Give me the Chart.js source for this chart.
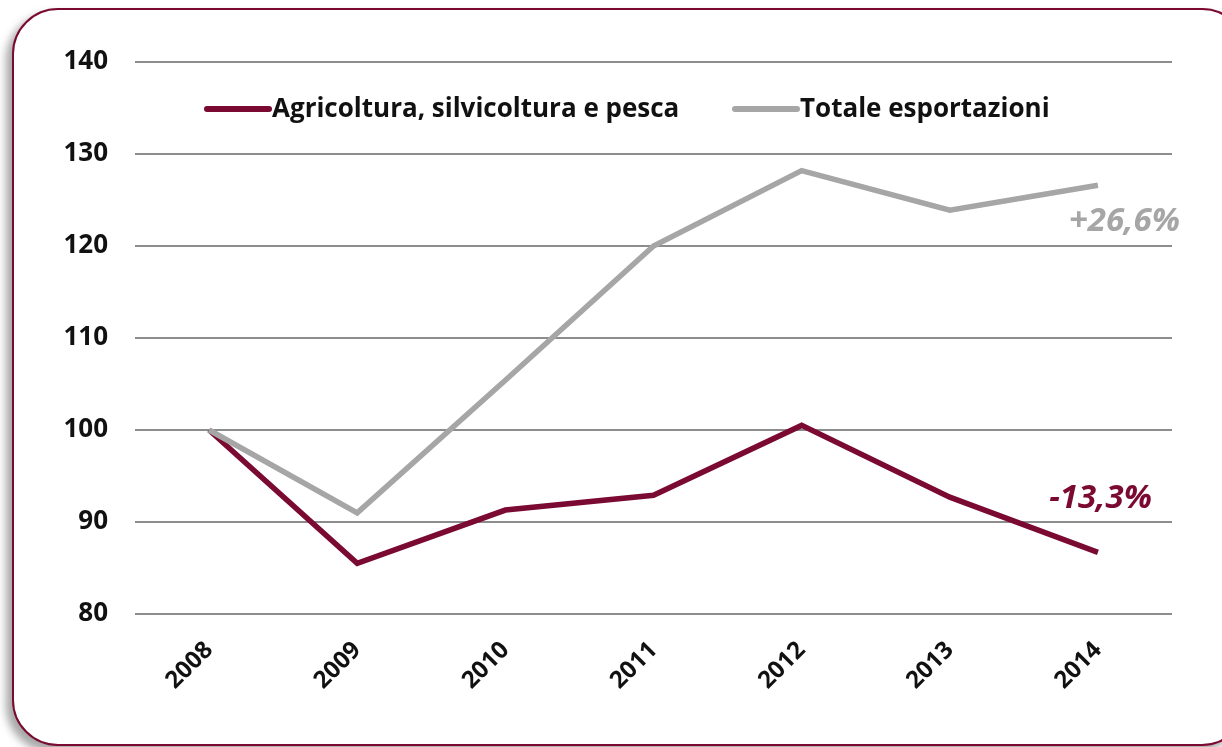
<!DOCTYPE html>
<html>
<head>
<meta charset="utf-8">
<script src="https://cdn.jsdelivr.net/npm/chart.js@4/dist/chart.umd.min.js"></script>
<style>
  html, body { margin: 0; padding: 0; background: #fff; overflow: hidden; }
  #frame {
    position: absolute;
    left: 12px; top: 8px;
    width: 1232px; height: 734px;
    border: 2px solid #7b0a33;
    border-radius: 46px;
    box-shadow: -6px 6px 8px rgba(0, 0, 0, 0.35);
    background: #fff;
  }
  #wrap { position: absolute; left: 0; top: 0; width: 1222px; height: 747px; }
</style>
</head>
<body>
<div id="frame"></div>
<div id="wrap"><canvas id="chart"></canvas></div>
<script>
const years = ["2008", "2009", "2010", "2011", "2012", "2013", "2014"];
const agricoltura = [100, 85.5, 91.3, 92.9, 100.5, 92.7, 86.7];
const totale = [100, 91.0, 105.4, 120.0, 128.2, 123.9, 126.6];
const yTicks = [80, 90, 100, 110, 120, 130, 140];
const changeLabels = ["-13,3%", "+26,6%"];

const maroon = "#7b0a33";
const grey = "#a6a6a6";

// legend drawn inside the plot area, as in the original
const innerLegend = {
  id: "innerLegend",
  afterDatasetsDraw(chart) {
    const c = chart.ctx;
    const area = chart.chartArea;
    const y = area.top + 47;
    const starts = [207, 735];
    c.save();
    c.font = "bold 26px 'Open Sans', sans-serif";
    c.textBaseline = "middle";
    chart.data.datasets.forEach((ds, i) => {
      const x = starts[i];
      c.strokeStyle = ds.borderColor;
      c.lineWidth = 6;
      c.lineCap = "round";
      c.beginPath();
      c.moveTo(x, y);
      c.lineTo(x + 62, y);
      c.stroke();
      c.fillStyle = "#111";
      c.fillText(ds.label, x + 65, y + 1);
    });
    c.restore();
  }
};

// end-of-line percentage changes
const endLabels = {
  id: "endLabels",
  afterDatasetsDraw(chart) {
    const c = chart.ctx;
    const xs = chart.scales.x;
    const ys = chart.scales.y;
    const last = years.length - 1;
    const x = xs.getPixelForValue(last);
    c.save();
    c.font = "italic bold 33px 'Open Sans', sans-serif";
    c.textBaseline = "middle";
    c.textAlign = "right";
    c.fillStyle = maroon;
    c.fillText(changeLabels[0], x + 54, ys.getPixelForValue(agricoltura[last]) - 54);
    c.fillStyle = grey;
    c.fillText(changeLabels[1], x + 82, ys.getPixelForValue(totale[last]) + 36);
    c.restore();
  }
};

const ctx = document.getElementById("chart").getContext("2d");
const chart = new Chart(ctx, {
  type: "line",
  data: {
    labels: years,
    datasets: [
      {
        label: "Agricoltura, silvicoltura e pesca",
        data: agricoltura,
        borderColor: maroon,
        borderWidth: 5.5,
        pointRadius: 0,
        tension: 0,
        order: 1
      },
      {
        label: "Totale esportazioni",
        data: totale,
        borderColor: grey,
        borderWidth: 5.5,
        pointRadius: 0,
        tension: 0,
        order: 0
      }
    ]
  },
  options: {
    responsive: true,
    maintainAspectRatio: false,
    animation: false,
    layout: { padding: { top: 62, right: 50, bottom: 0, left: 0 } },
    plugins: {
      legend: { display: false },
      tooltip: { enabled: false }
    },
    scales: {
      x: {
        offset: true,
        grid: { display: false },
        border: { display: false },
        afterFit(scale) { scale.height = 133; },
        ticks: {
          color: "#111",
          font: { family: "'Open Sans', sans-serif", size: 24, weight: "bold" },
          minRotation: 45,
          maxRotation: 45,
          padding: 14
        }
      },
      y: {
        min: 80,
        max: 140,
        afterFit(scale) { scale.width = 135; },
        afterBuildTicks(scale) { scale.ticks = yTicks.map(v => ({ value: v })); },
        grid: { color: "#8c8c8c", lineWidth: 2, drawTicks: false },
        border: { display: false },
        ticks: {
          color: "#111",
          font: { family: "'Open Sans', sans-serif", size: 26, weight: "bold" },
          padding: 27
        }
      }
    }
  },
  plugins: [innerLegend, endLabels]
});
</script>
</body>
</html>
